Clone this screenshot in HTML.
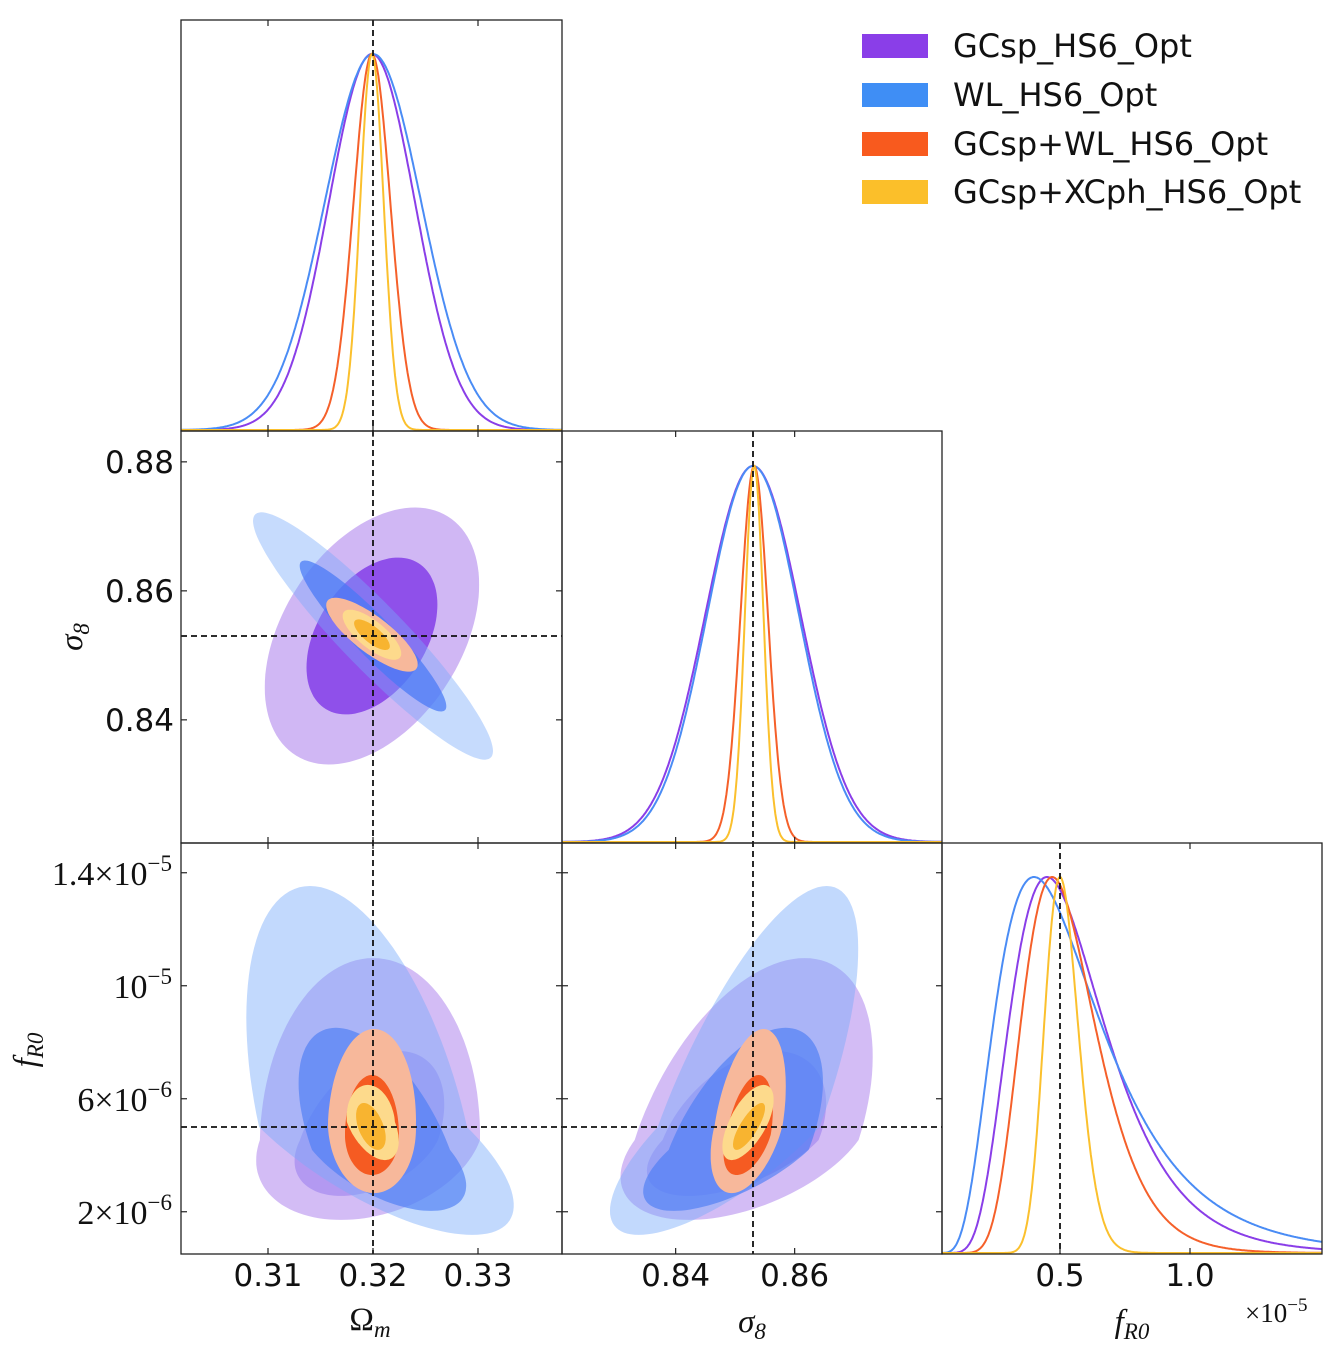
<!DOCTYPE html>
<html><head><meta charset="utf-8"><style>
html,body{margin:0;padding:0;background:#fff;}
svg{display:block;}
</style></head><body>
<svg id="fig" width="1337" height="1350" viewBox="0 0 1337 1350" xmlns="http://www.w3.org/2000/svg"></svg>
<script>
// ---- data ----
const seriesNames = ["GCsp_HS6_Opt","WL_HS6_Opt","GCsp+WL_HS6_Opt","GCsp+XCph_HS6_Opt"];
const lineColors = ["#8a3ee8","#4a8cf5","#f5602a","#fbc02d"];
const truthOm = 0.32, truthS8 = 0.853, truthF = 5.0; // fR0 in 1e-6
// Gaussian (Omega_m, sigma8): center and widths
const omCenter = [0.3199, 0.32, 0.3199, 0.3199];
const s8Center = [0.853, 0.853, 0.8532, 0.8532];
const omSigma = [0.0041, 0.00459, 0.00175, 0.00112];
const s8Sigma = [0.0080, 0.0077, 0.0023, 0.00156];
const omS8Rho = [0.4, -0.93, -0.8, -0.75];
// fR0 1D (units 1e-5): lognormal mode and log-width
const fMode = [0.45, 0.40, 0.47, 0.50];
const fLogWidth = [0.40, 0.50, 0.30, 0.13];
// fR0 2D contours (egg shapes): GC first, then WL, combined ; fR0 in 1e-6
const eggSeries = [0,0,1,1,2,2,3,3];
const eggLevel  = [2,1,2,1,2,1,2,1];
const eggFC = [4.54,4.54,5.0,4.19,5.07,4.72,5.18,5.0];
const eggUp = [6.44,3.15,8.53,4.32,3.40,2.12,1.31,0.85];
const eggDown = [2.83,1.98,3.82,2.16,2.41,1.42,1.35,0.81];
const eggOmC = [0.31971,0.31962,0.31905,0.32076,0.3199,0.3199,0.3198,0.3198];
const eggOmW = [0.01048,0.00657,0.0099,0.00657,0.00419,0.00257,0.00229,0.00124];
const eggOmTop = [0.0003,0.00286,-0.00505,-0.00429,0.0002,0,-0.0003,-0.00067];
const eggOmBot = [-0.00276,-0.00267,0.0104,0.00476,0.0002,0,0.00133,0.00067];
const eggS8C = [0.85193,0.85092,0.85059,0.85059,0.85227,0.85227,0.85227,0.85227];
const eggS8W = [0.01882,0.01311,0.01361,0.01176,0.00571,0.0037,0.00336,0.00168];
const eggS8Top = [0.00975,0.00588,0.01479,0.0079,0.00252,0.00168,0.00252,0.00218];
const eggS8Bot = [-0.00975,-0.00874,-0.01681,-0.01092,-0.00286,-0.00202,-0.00286,-0.00202];
const omTicks = [0.31,0.32,0.33];
const s8Ticks = [0.84,0.86,0.88];
const s8TicksX = [0.84,0.86];
const fTicksY = [2,6,10,14];
const fTickLabelsY = [["2×10","−6"],["6×10","−6"],["10","−5"],["1.4×10","−5"]];
const fTicksX = [0.5,1.0];
const fTickLabelsX = ["0.5","1.0"];

// ---- fills ----
const fill2 = ["rgba(150,95,230,0.45)","rgba(120,170,250,0.42)","#f7b89b","#fdda8c"];
const fill1 = ["rgba(132,62,232,0.85)","rgba(70,120,245,0.72)","#f55b22","#f8b430"];
const fill2F = ["rgba(150,95,230,0.42)","rgba(120,170,250,0.45)","#f7b89b","#fdda8c"];
const fill1F = ["rgba(120,90,235,0.35)","rgba(75,125,245,0.65)","#f55b22","#f8b430"];

// ---- geometry ----
const C = [181,562,942,1322], R = [20,431,843,1254];
const xOm = v => 373 + (v-0.32)*10500;
const yS8 = v => 636 - (v-0.853)*6450;
const xS8 = v => 753 + (v-0.853)*5950;
const yF = v => 1127 - (v-5)*28.25;
const xF = v => 1060 + (v-0.5)*260;

const svg = document.getElementById('fig');
const NS = "http://www.w3.org/2000/svg";
function mk(tag, attrs, parent){
  const e = document.createElementNS(NS, tag);
  for (const k in attrs) e.setAttribute(k, attrs[k]);
  (parent||svg).appendChild(e); return e;
}
const defs = mk('defs',{});
function clip(id,x0,y0,x1,y1){ const c=mk('clipPath',{id:id},defs); mk('rect',{x:x0,y:y0,width:x1-x0,height:y1-y0},c); }
clip('c00',C[0],R[0],C[1],R[1]); clip('c10',C[0],R[1],C[1],R[2]); clip('c11',C[1],R[1],C[2],R[2]);
clip('c20',C[0],R[2],C[1],R[3]); clip('c21',C[1],R[2],C[2],R[3]); clip('c22',C[2],R[2],C[3],R[3]);

function group(id,name){ const g=mk('g',{'clip-path':'url(#'+id+')'});
  
  
  return g; }

// panel (Om, s8): gaussian ellipses
const g10 = group('c10','panel-omegam-sigma8');
for (let s=0;s<4;s++){
  [[2.49,fill2[s]],[1.52,fill1[s]]].forEach(([k,f],li)=>{
    let d='';
    for(let i=0;i<=120;i++){ const t=i/120*2*Math.PI;
      const a=Math.cos(t), b=omS8Rho[s]*Math.cos(t)+Math.sqrt(1-omS8Rho[s]**2)*Math.sin(t);
      const X=xOm(omCenter[s]+k*omSigma[s]*a), Y=yS8(s8Center[s]+k*s8Sigma[s]*b);
      d+=(i?'L':'M')+X.toFixed(1)+','+Y.toFixed(1);}
    const p=mk('path',{d:d+'Z',fill:f},g10);
    
    
  });
}
// egg contours for fR0 panels
function egg(g, xs, cx, w, top, bot, i){
  let d='';
  for(let j=0;j<=120;j++){ const t=j/120*2*Math.PI; const u=Math.cos(t), v=Math.sin(t);
    const dy = v>0 ? v*eggUp[i] : v*eggDown[i];
    const dx = u*w + (v>0 ? v*top : -v*bot);
    d+=(j?'L':'M')+xs(cx+dx).toFixed(1)+','+yF(eggFC[i]+dy).toFixed(1);}
  const p=mk('path',{d:d+'Z',fill:eggLevel[i]==2?fill2F[eggSeries[i]]:fill1F[eggSeries[i]]},g);
  
  
}
const g20 = group('c20','panel-omegam-fr0');
const g21 = group('c21','panel-sigma8-fr0');
for(let i=0;i<eggSeries.length;i++){
  egg(g20,xOm,eggOmC[i],eggOmW[i],eggOmTop[i],eggOmBot[i],i);
  egg(g21,xS8,eggS8C[i],eggS8W[i],eggS8Top[i],eggS8Bot[i],i);
}
// 1D curves
const g00 = group('c00','panel-omegam-1d');
const g11 = group('c11','panel-sigma8-1d');
const g22 = group('c22','panel-fr0-1d');
for(let s=0;s<4;s++){
  let d='';
  for(let i=0;i<=400;i++){ const v=0.3+i/400*0.04; const p=Math.exp(-0.5*((v-omCenter[s])/omSigma[s])**2);
    d+=(i?'L':'M')+xOm(v).toFixed(1)+','+(R[1]-1-p*376).toFixed(1);}
  let e=mk('path',{d:d,fill:'none',stroke:lineColors[s],'stroke-width':2},g00);
  
  
  d='';
  for(let i=0;i<=400;i++){ const v=0.82+i/400*0.07; const p=Math.exp(-0.5*((v-s8Center[s])/s8Sigma[s])**2);
    d+=(i?'L':'M')+xS8(v).toFixed(1)+','+(R[2]-1-p*376).toFixed(1);}
  e=mk('path',{d:d,fill:'none',stroke:lineColors[s],'stroke-width':2},g11);
  
  
  d='';
  const mu=Math.log(fMode[s])+fLogWidth[s]**2;
  const f=v=>Math.exp(-((Math.log(v)-mu)**2)/(2*fLogWidth[s]**2))/v;
  const fmax=f(fMode[s]);
  for(let i=0;i<=500;i++){ const v=0.001+i/500*1.6; const p=f(v)/fmax;
    d+=(i?'L':'M')+xF(v).toFixed(1)+','+(R[3]-1-p*376).toFixed(1);}
  e=mk('path',{d:d,fill:'none',stroke:lineColors[s],'stroke-width':2},g22);
  
  
}
// truth lines
function dash(x1,y1,x2,y2,name){ const l=mk('line',{x1:x1,y1:y1,x2:x2,y2:y2,stroke:'#111','stroke-width':1.8,'stroke-dasharray':'6,4'});
    }
dash(xOm(truthOm),R[0],xOm(truthOm),R[3],'truth-line-omegam');
dash(C[0],yS8(truthS8),C[1],yS8(truthS8),'truth-line-sigma8-h');
dash(xS8(truthS8),R[1],xS8(truthS8),R[3],'truth-line-sigma8-v');
dash(C[0],yF(truthF),C[2],yF(truthF),'truth-line-fr0-h');
dash(xF(truthF/10),R[2],xF(truthF/10),R[3],'truth-line-fr0-v');

// frames
function frame(x0,y0,x1,y1,name){ const r=mk('rect',{x:x0,y:y0,width:x1-x0,height:y1-y0,fill:'none',stroke:'#222','stroke-width':1.3});
    }
frame(C[0],R[0],C[1],R[1],'frame-omegam-1d');
frame(C[0],R[1],C[1],R[2],'frame-omegam-sigma8');
frame(C[1],R[1],C[2],R[2],'frame-sigma8-1d');
frame(C[0],R[2],C[1],R[3],'frame-omegam-fr0');
frame(C[1],R[2],C[2],R[3],'frame-sigma8-fr0');
frame(C[2],R[2],C[3],R[3],'frame-fr0-1d');

// ticks
function tk(x1,y1,x2,y2){ mk('line',{x1:x1,y1:y1,x2:x2,y2:y2,stroke:'#222','stroke-width':1.2}); }
for(let r=0;r<3;r++) omTicks.forEach(v=>{ const x=xOm(v); tk(x,R[r],x,R[r]+6); tk(x,R[r+1],x,R[r+1]-6); });
for(let r=1;r<3;r++) s8TicksX.forEach(v=>{ const x=xS8(v); tk(x,R[r],x,R[r]+6); tk(x,R[r+1],x,R[r+1]-6); });
fTicksX.forEach(v=>{ const x=xF(v); tk(x,R[2],x,R[2]+6); tk(x,R[3],x,R[3]-6); });
s8Ticks.forEach(v=>{ const y=yS8(v); tk(C[0],y,C[0]+6,y); tk(C[1],y,C[1]-6,y); });
for(let c=0;c<2;c++) fTicksY.forEach(v=>{ const y=yF(v); tk(C[c],y,C[c]+6,y); tk(C[c+1],y,C[c+1]-6,y); });

// tick labels
function txt(x,y,s,attrs,name){ const t=mk('text',Object.assign({x:x,y:y,'font-family':'"DejaVu Sans","Liberation Sans",sans-serif','font-size':31,fill:'#111'},attrs||{}));
  t.textContent=s;   return t; }
omTicks.forEach(v=>txt(xOm(v),1286,v.toFixed(2),{'text-anchor':'middle'},'x-tick-label-omegam'));
s8TicksX.forEach(v=>txt(xS8(v),1286,v.toFixed(2),{'text-anchor':'middle'},'x-tick-label-sigma8'));
fTicksX.forEach((v,i)=>txt(xF(v),1286,fTickLabelsX[i],{'text-anchor':'middle'},'x-tick-label-fr0'));
s8Ticks.forEach(v=>txt(174,yS8(v)+11,v.toFixed(2),{'text-anchor':'end'},'y-tick-label-sigma8'));
fTicksY.forEach((v,i)=>{
  const t=txt(172,yF(v)+12,'',{'text-anchor':'end','font-family':'"Liberation Serif",serif','font-size':34},'y-tick-label-fr0');
  const a=mk('tspan',{},t); a.textContent=fTickLabelsY[i][0];
  const b=mk('tspan',{'font-size':23,dy:-14},t); b.textContent=fTickLabelsY[i][1];
});
const ex=txt(1245,1322,'',{'font-family':'"Liberation Serif",serif','font-size':27},'x-axis-exponent');
const e1=mk('tspan',{},ex); e1.textContent='×10'; const e2=mk('tspan',{'font-size':19,dy:-11},ex); e2.textContent='−5';

// axis labels
function lab(x,y,main,sub,rot,name,upright){
  const t=txt(x,y,'',{'text-anchor':'middle','font-family':'"Liberation Serif",serif','font-size':33,'font-style':'italic'},name);
  if(rot) t.setAttribute('transform','rotate(-90 '+x+' '+y+')');
  const a=mk('tspan',upright?{'font-style':'normal'}:{},t); a.textContent=main;
  const b=mk('tspan',{'font-size':23,dy:7},t); b.textContent=sub;
}
lab(370,1330,'Ω','m',false,'x-axis-title-omegam',true);
lab(752,1332,'σ','8',false,'x-axis-title-sigma8');
lab(1132,1332,'f','R0',false,'x-axis-title-fr0');
lab(82,637,'σ','8',true,'y-axis-title-sigma8');
lab(36,1050,'f','R0',true,'y-axis-title-fr0');

// legend
const legColors=["#8a3ee8","#3f8ef5","#f85a1e","#fbbf2a"];
const legY=[46,95,144,192];
for(let i=0;i<4;i++){
  const r=mk('rect',{x:862,y:legY[i]-12,width:66,height:24,fill:legColors[i]});
  
  
  txt(953,legY[i]+11,seriesNames[i],{'font-size':32},'legend-entry');
}
</script>
</body></html>
